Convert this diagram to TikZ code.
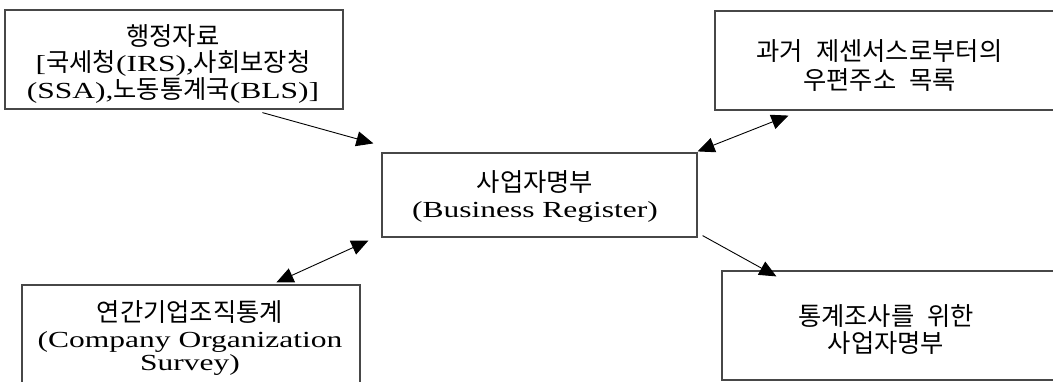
\documentclass[tikz,border=0pt]{standalone}
\usepackage{fontspec}
\setmainfont[FakeStretch=1.37]{Liberation Serif}
\newfontfamily\krf[Scale=1.1]{Noto Sans CJK KR}
\newcommand\kr[1]{{\krf #1}}
\newcommand\ks{\hspace{13pt}}
\newcommand\tightlines{\lineskiplimit=-40pt\relax\lineskip=0pt\relax}
\newcommand\tp{\rule{0pt}{30pt}}
\newcommand\bt{\rule[-10pt]{0pt}{10pt}}
\usetikzlibrary{arrows.meta,calc}
\begin{document}
\begin{tikzpicture}[x=1pt,y=-1pt,
  box/.style={draw=black!72, line width=1.2pt, inner sep=0pt, fill=none},
  txt/.style={inner sep=0pt, align=center, anchor=north, font=\fontsize{23}{#1}\selectfont\tightlines},
  txt/.default=27.5,
  arr/.style={-{Triangle[length=17pt,width=15pt]}, line width=0.9pt},
  barr/.style={{Triangle[length=17pt,width=15pt]}-{Triangle[length=17pt,width=15pt]}, line width=0.9pt}]
\useasboundingbox (0,0) rectangle (1053,381);
\clip (0,0) rectangle (1053,381);
% boxes
\node[box, minimum width=338pt, minimum height=99pt] (A) at (174,59.5) {};
\node[box, minimum width=350pt, minimum height=99pt] (B) at (890,60.5) {};
\node[box, minimum width=315pt, minimum height=84pt] (C) at (539.5,195) {};
\node[box, minimum width=338pt, minimum height=110pt] (D) at (191,340) {};
\node[box, minimum width=343pt, minimum height=109pt] (E) at (893.5,325.5) {};
% texts (first-line strut 30pt high, last-line strut 10pt deep)
\node[txt=26.5] (At) at ($(A.north)+(-1,5.7)$) {\tp\kr{행정자료}\\{[}\kr{국세청}(IRS),\kr{사회보장청}\\(SSA),\kr{노동통계국}(BLS)]\bt};
\node[txt=29] (Bt) at ($(B.north)+(-10.5,19.7)$) {\tp\kr{과거\ks 제센서스로부터의}\\\kr{우편주소\ks 목록}\bt};
\node[txt=25.9] (Ct) at ($(C.north)+(-4.5,8.7)$) {\tp\kr{사업자명부}\\(Business Register)\bt};
\node[txt=22.5] (Dt) at ($(D.north)+(-1,7.2)$) {\tp\kr{연간기업조직통계}\\[3.4pt](Company Organization\\Survey)\bt};
\node[txt=27.5] (Et) at ($(E.north)+(-7.5,24.7)$) {\tp\kr{통계조사를\ks 위한}\\\kr{사업자명부}\bt};
% arrow end points
\coordinate (a1) at ($(A.south west)+(258,3)$);
\coordinate (a2) at ($(C.north west)+(-8,-9)$);
\coordinate (b1) at ($(C.north east)+(0,-1)$);
\coordinate (b2) at ($(B.south west)+(74,5)$);
\coordinate (d1) at ($(C.south west)+(-13,3)$);
\coordinate (d2) at ($(D.north west)+(255,-2)$);
\coordinate (e1) at ($(C.south east)+(5,-2)$);
\coordinate (e2) at ($(E.north west)+(55,6)$);
\draw[arr] (a1) -- (a2);
\draw[barr] (b1) -- (b2);
\draw[barr] (d1) -- (d2);
\draw[arr] (e1) -- (e2);
\end{tikzpicture}
\end{document}
